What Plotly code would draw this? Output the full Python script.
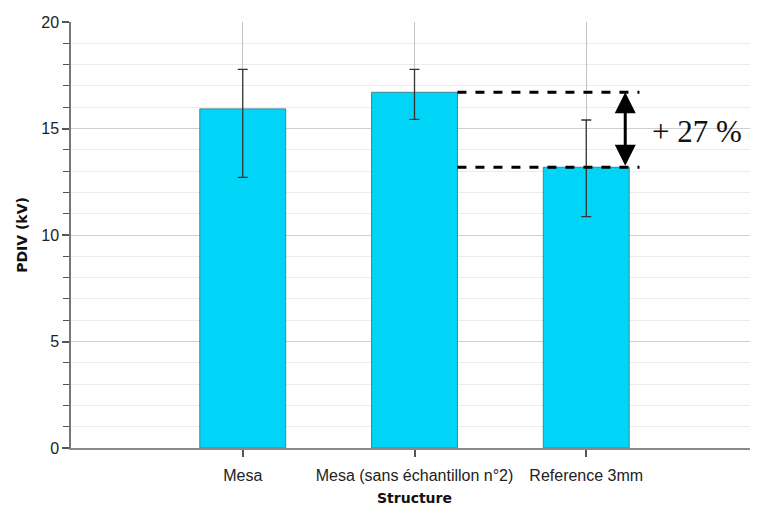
import plotly.graph_objects as go

categories = ["Mesa", "Mesa (sans échantillon n°2)", "Reference 3mm"]
pdiv = [15.92, 16.70, 13.18]
err_plus = [1.86, 1.08, 2.22]
err_minus = [3.21, 1.27, 2.32]
y_ticks = [0, 5, 10, 15, 20]
gain_label = "+ 27 %"

x_pos = [0, 1, 2]

fig = go.Figure()
fig.add_trace(go.Bar(
    x=x_pos, y=pdiv, width=0.5,
    marker=dict(color="#00d5f7", line=dict(color="#3f8796", width=1)),
    error_y=dict(type="data", symmetric=False, array=err_plus, arrayminus=err_minus,
                 color="#333333", thickness=1.3, width=5),
    showlegend=False,
))

# dashed comparison lines from top of bar 2 to arrow
x_start = x_pos[1] + 0.25
x_end = 2.31
for yv in (pdiv[1], pdiv[2]):
    fig.add_shape(type="line", xref="x", yref="y", x0=x_start, x1=x_end, y0=yv, y1=yv,
                  line=dict(color="black", width=3, dash="dash"))

x_arrow = 2.227
fig.add_annotation(x=x_arrow, y=pdiv[1], ax=x_arrow, ay=pdiv[2], xref="x", yref="y",
                   axref="x", ayref="y", showarrow=True, arrowhead=2, arrowside="end+start",
                   arrowsize=1.4, arrowwidth=3, arrowcolor="black", text="")
fig.add_annotation(x=2.645, y=(pdiv[1] + pdiv[2]) / 2 - 0.08, xref="x", yref="y",
                   text=gain_label, showarrow=False,
                   font=dict(family="Liberation Serif, Times New Roman, serif", size=31, color="#111"))

title_font = "DejaVu Sans, Liberation Sans, sans-serif"

fig.update_layout(
    width=750, height=498,
    margin=dict(l=63, r=0, t=14, b=58),
    plot_bgcolor="white", paper_bgcolor="white",
    font=dict(family="Liberation Sans, Arial, sans-serif", color="#222", size=16),
    bargap=0.5,
)
fig.update_xaxes(
    range=[-1, 3], tickvals=x_pos, ticktext=categories,
    showline=True, linecolor="#8a8a8a", linewidth=1.5,
    ticks="outside", ticklen=7, tickcolor="#555", tickwidth=1.5,
    ticklabelstandoff=5,
    showgrid=True, gridcolor="#c4c4c4", gridwidth=1,
    title=dict(text="<b>Structure</b>", font=dict(family=title_font, size=14, color="#111"), standoff=10),
    tickfont=dict(size=16, color="#222"),
    zeroline=False,
)
fig.update_yaxes(
    range=[0, 20], tickvals=y_ticks,
    showline=True, linecolor="#777", linewidth=1.5,
    ticks="outside", ticklen=7, tickcolor="#555", tickwidth=1.5,
    showgrid=True, gridcolor="#cfcfcf", gridwidth=1,
    minor=dict(dtick=1, ticks="outside", ticklen=6, tickcolor="#555", tickwidth=1.3,
               showgrid=True, gridcolor="#ececec", gridwidth=1),
    title=dict(text="<b>PDIV (kV)</b>", font=dict(family=title_font, size=14, color="#111"), standoff=10),
    tickfont=dict(size=16, color="#222"),
    zeroline=False,
)

fig.write_html("out.html")
